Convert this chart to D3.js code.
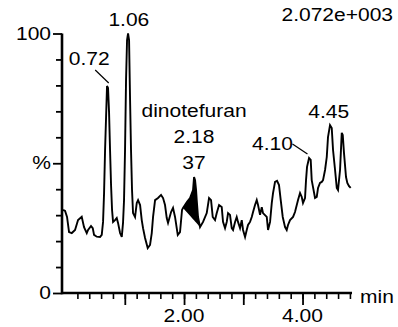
<!DOCTYPE html>
<html>
<head>
<meta charset="utf-8">
<script src="https://cdn.jsdelivr.net/npm/d3@7"></script>
<style>
  body { margin: 0; background: #fff; }
  svg text { font-family: "Liberation Sans", Arial, sans-serif; font-size: 17.5px; fill: #000; }
</style>
</head>
<body>
<svg id="chart" width="398" height="327"></svg>
<script>
// retention time (min) and relative intensity (%)
const times = [-0.042, -0.008, 0.025, 0.059, 0.105, 0.160, 0.211, 0.273, 0.312, 0.358, 0.380, 0.430, 0.459, 0.481, 0.527, 0.582, 0.611, 0.633, 0.650, 0.667, 0.684, 0.700, 0.717, 0.734, 0.751, 0.768, 0.785, 0.802, 0.835, 0.864, 0.886, 0.920, 0.949, 0.970, 0.987, 1.004, 1.021, 1.038, 1.055, 1.072, 1.089, 1.105, 1.122, 1.139, 1.173, 1.202, 1.224, 1.258, 1.286, 1.308, 1.342, 1.387, 1.426, 1.455, 1.477, 1.511, 1.561, 1.612, 1.646, 1.679, 1.708, 1.730, 1.781, 1.814, 1.848, 1.894, 1.932, 1.966, 1.983, 2.051, 2.101, 2.152, 2.169, 2.186, 2.203, 2.214, 2.236, 2.270, 2.321, 2.383, 2.422, 2.456, 2.484, 2.523, 2.552, 2.591, 2.636, 2.658, 2.692, 2.721, 2.743, 2.776, 2.805, 2.827, 2.861, 2.889, 2.911, 2.945, 2.974, 2.996, 3.030, 3.058, 3.080, 3.114, 3.143, 3.165, 3.198, 3.227, 3.249, 3.283, 3.312, 3.333, 3.396, 3.418, 3.452, 3.481, 3.502, 3.536, 3.570, 3.603, 3.632, 3.666, 3.705, 3.733, 3.755, 3.789, 3.840, 3.873, 3.924, 3.958, 3.987, 4.008, 4.042, 4.059, 4.076, 4.110, 4.138, 4.155, 4.177, 4.211, 4.240, 4.262, 4.295, 4.324, 4.346, 4.380, 4.409, 4.430, 4.464, 4.493, 4.515, 4.549, 4.578, 4.599, 4.633, 4.662, 4.679, 4.700, 4.734, 4.756, 4.785, 4.813];
const intensity = [32.0, 31.6, 29.3, 23.5, 23.1, 24.3, 28.1, 29.4, 25.4, 23.1, 24.3, 25.8, 25.0, 22.4, 21.7, 21.6, 22.4, 27.4, 38.5, 55.1, 67.8, 79.8, 79.0, 69.8, 55.1, 41.6, 32.0, 27.4, 28.1, 28.9, 27.0, 23.1, 21.6, 27.0, 35.8, 55.1, 82.1, 97.5, 100.0, 97.5, 74.4, 55.1, 39.7, 30.8, 29.3, 34.7, 35.8, 33.9, 28.1, 25.0, 21.2, 17.3, 18.5, 23.1, 29.3, 35.8, 36.6, 37.8, 36.6, 33.9, 28.9, 27.0, 31.2, 32.8, 29.3, 22.4, 23.5, 32.0, 32.8, 35.1, 36.6, 39.7, 44.7, 43.5, 39.7, 35.8, 29.3, 25.4, 27.4, 30.8, 36.6, 35.8, 29.3, 28.1, 30.8, 33.9, 33.1, 27.4, 25.0, 27.4, 30.8, 30.1, 25.0, 24.3, 27.4, 29.3, 27.4, 25.0, 28.1, 24.3, 21.6, 24.3, 26.2, 27.4, 29.3, 31.2, 33.9, 35.8, 33.9, 30.1, 33.1, 30.8, 29.3, 24.3, 27.4, 34.7, 38.5, 42.8, 43.2, 41.6, 35.8, 29.3, 25.4, 24.3, 26.2, 28.1, 29.3, 31.2, 35.8, 38.5, 37.0, 34.7, 36.6, 43.5, 48.6, 52.0, 51.3, 43.5, 40.8, 36.6, 37.0, 40.5, 42.4, 42.8, 43.5, 47.4, 52.4, 60.1, 64.7, 63.6, 55.1, 47.4, 40.5, 39.7, 47.4, 61.7, 60.9, 53.9, 44.7, 42.4, 41.2, 40.5];

// integrated peak (dinotefuran) limits
const integStart = 1.983;
const integEnd = 2.270;

// labelled peaks
const peakTimes = [0.72, 1.06, 4.10, 4.45];
const peakLabels = ['0.72', '1.06', '4.10', '4.45'];
const compoundName = 'dinotefuran';
const compoundTime = '2.18';
const compoundArea = '37';
const compoundAt = 2.169;

const xMinor = d3.range(0.2, 4.81, 0.2);
const xMajor = [1, 2, 3, 4];
const xLabelled = [2, 4];
const yTicks = d3.range(0, 101, 10);
const yLabels = { 0: '0', 50: '%', 100: '100' };
const maxLabel = '2.072e+003';
const xUnit = 'min';

const svg = d3.select('#chart');
const x = d3.scaleLinear().domain([-0.06, 4.835]).range([62, 352]);
const y = d3.scaleLinear().domain([0, 100]).range([293, 33.5]);

// stretch text horizontally like the instrument font
const stretchK = 1.2;
function label(txt, px, py, anchor) {
    const t = svg.append('text').attr('y', py).text(txt);
    const len = t.node().getComputedTextLength() * stretchK;
    let x0 = px;
    if (anchor === 'middle') x0 = px - len / 2;
    if (anchor === 'end') x0 = px - len;
    t.attr('x', x0).attr('textLength', len).attr('lengthAdjust', 'spacingAndGlyphs');
    return t;
}

const data = times.map((t, i) => ({ t: t, v: intensity[i] }));

// filled integration area
const inPeak = data.filter(d => d.t >= integStart && d.t <= integEnd);
const base = d3.scaleLinear()
    .domain([integStart, integEnd])
    .range([inPeak[0].v, inPeak[inPeak.length - 1].v]);
const area = d3.area()
    .x(d => x(d.t))
    .y0(d => y(base(d.t)))
    .y1(d => y(d.v));
svg.append('path').datum(inPeak).attr('d', area).attr('fill', '#000');

// trace
const line = d3.line().x(d => x(d.t)).y(d => y(d.v));
svg.append('path')
    .datum(data)
    .attr('d', line)
    .attr('fill', 'none')
    .attr('stroke', '#000')
    .attr('stroke-width', 1.9)
    .attr('stroke-linejoin', 'miter');

// axes
const gx = svg.append('g').attr('transform', 'translate(0,293)');
gx.call(d3.axisBottom(x).tickValues(xMinor).tickSize(6).tickSizeOuter(0).tickFormat(''));
gx.call(g => g.select('.domain').attr('stroke-width', 2.6).attr('d', `M${x.range()[0]},0H${x.range()[1]}`));
gx.selectAll('.tick line').attr('stroke-width', 1.6);
const gxMajor = svg.append('g').attr('transform', 'translate(0,293)');
gxMajor.call(d3.axisBottom(x).tickValues(xMajor).tickSize(12).tickSizeOuter(0).tickFormat(''));
gxMajor.select('.domain').remove();
gxMajor.selectAll('.tick line').attr('stroke-width', 1.8);

const gy = svg.append('g').attr('transform', 'translate(62,0)');
gy.call(d3.axisLeft(y).tickValues(yTicks).tickSize(6).tickSizeOuter(0).tickFormat(''));
gy.select('.domain').attr('stroke-width', 2.6).attr('d', `M0,${y(0) + 1.3}V${y(100)}`);
gy.selectAll('.tick line')
    .attr('stroke-width', 1.8)
    .attr('x2', d => (yLabels[d] !== undefined ? -9 : -6));

xLabelled.forEach(v => label(d3.format('.2f')(v), x(v), 322, 'middle'));
yTicks.filter(v => yLabels[v] !== undefined)
    .forEach(v => label(yLabels[v], 51, y(v) + 6, 'end'));
label(xUnit, 360, 303, 'start');
label(maxLabel, 393, 21, 'end');

// peak annotations
label(peakLabels[1], x(peakTimes[1]) + 0.5, 26, 'middle');
label(peakLabels[0], x(peakTimes[0]) - 19, 65, 'middle');
svg.append('line')
    .attr('x1', x(peakTimes[0]) - 13).attr('y1', 70)
    .attr('x2', x(peakTimes[0]) + 0.5).attr('y2', 83)
    .attr('stroke', '#000').attr('stroke-width', 1.2);
label(peakLabels[3], x(peakTimes[3]) - 0.5, 118, 'middle');
label(peakLabels[2], x(peakTimes[2]) - 36, 150, 'middle');
svg.append('line')
    .attr('x1', x(peakTimes[2]) - 16).attr('y1', 144)
    .attr('x2', x(peakTimes[2]) - 1).attr('y2', 154)
    .attr('stroke', '#000').attr('stroke-width', 1.2);

label(compoundName, x(compoundAt), 117, 'middle');
label(compoundTime, x(compoundAt), 143, 'middle');
label(compoundArea, x(compoundAt), 169, 'middle');
</script>
</body>
</html>
